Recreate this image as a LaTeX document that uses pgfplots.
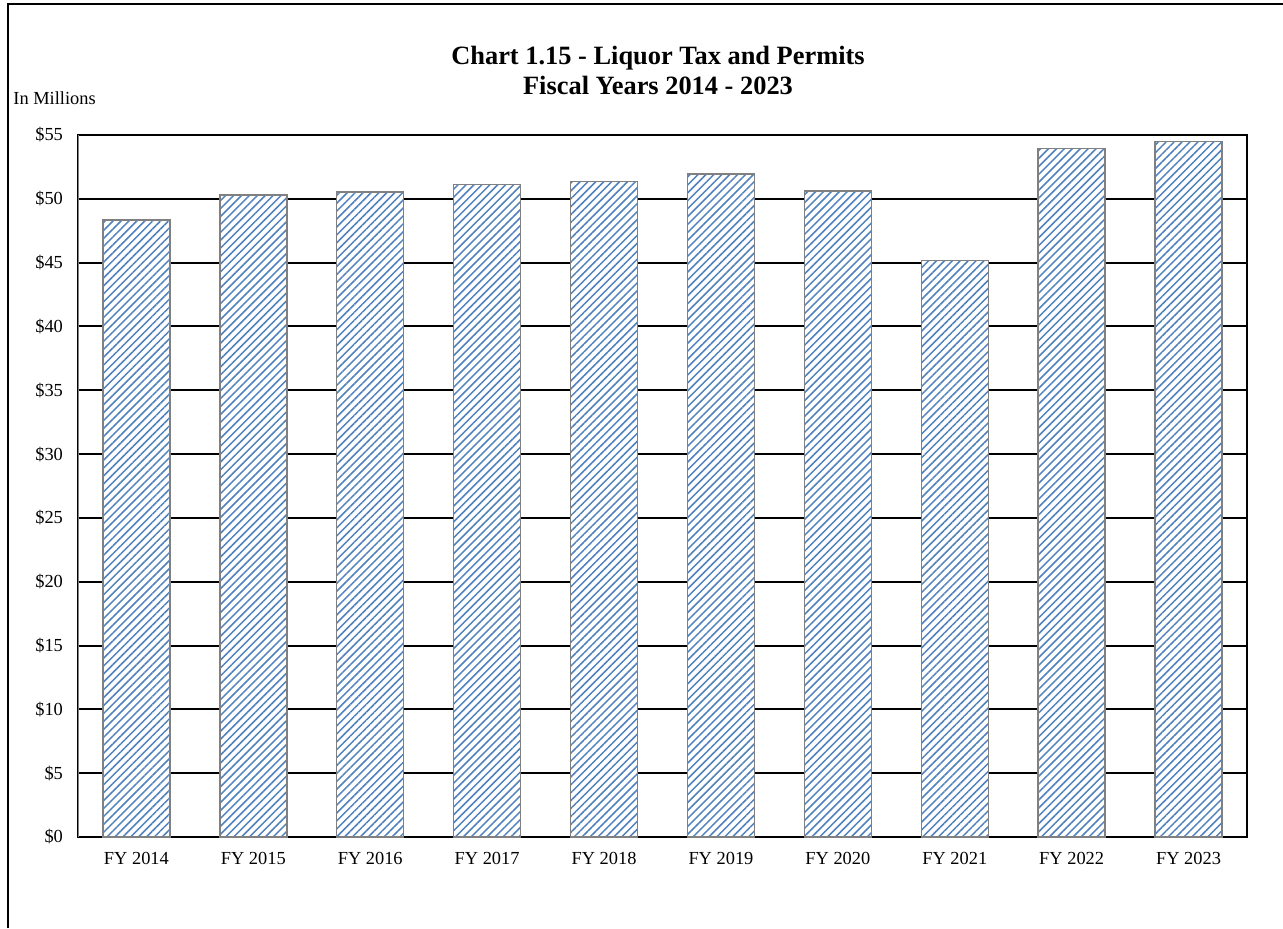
\documentclass[border=0pt]{standalone}
\usepackage{fontspec}
\setmainfont{Liberation Serif}
\usepackage{pgfplots}
\pgfplotsset{compat=1.18}
\usetikzlibrary{patterns.meta}
\definecolor{barblue}{RGB}{79,129,189}
\definecolor{bargray}{RGB}{128,128,128}

\pgfplotstableread{
x  val
0  48.35
1  50.30
2  50.55
3  51.10
4  51.35
5  51.95
6  50.60
7  45.15
8  53.95
9  54.50
}\liquor

\begin{document}
\begin{tikzpicture}
% page size and outer frame (top and left edges only in view)
\useasboundingbox (0,0) rectangle (641.5pt,464pt);
\draw[line width=1pt] (3.75pt,0) -- (3.75pt,462pt) -- (641.5pt,462pt);

\node[font=\fontsize{13.2}{15}\selectfont\bfseries, align=center] at (329pt,429pt)
  {Chart 1.15 - Liquor Tax and Permits\\Fiscal Years 2014 - 2023};
\node[font=\fontsize{9.2}{11}\selectfont, anchor=west, inner sep=0pt] at (6.5pt,415pt) {In Millions};

\begin{axis}[
    at={(39pt,45.5pt)}, anchor=south west,
    scale only axis,
    width=584.5pt, height=351pt,
    ybar, bar width=33.5pt,
    xmin=-0.5, xmax=9.5,
    ymin=0, ymax=55,
    xtick={0,...,9},
    xticklabels={FY 2014,FY 2015,FY 2016,FY 2017,FY 2018,FY 2019,FY 2020,FY 2021,FY 2022,FY 2023},
    ytick={0,5,...,55},
    yticklabels={\$0,\$5,\$10,\$15,\$20,\$25,\$30,\$35,\$40,\$45,\$50,\$55},
    major tick length=0pt,
    tick label style={font=\fontsize{9.2}{11}\selectfont},
    yticklabel style={xshift=-4pt},
    xticklabel style={yshift=-4pt},
    ymajorgrids,
    major grid style={black, line width=1pt},
    axis line style={black, line width=0.8pt},
]
\addplot[draw=bargray, line width=0.7pt,
    preaction={fill=white},
    pattern={Lines[angle=45, distance=2.8pt, line width=0.75pt]},
    pattern color=barblue] table[x=x, y=val] {\liquor};
\draw[bargray, line width=0.8pt] (rel axis cs:0,0) -- (rel axis cs:0,1);
\end{axis}
\end{tikzpicture}
\end{document}
